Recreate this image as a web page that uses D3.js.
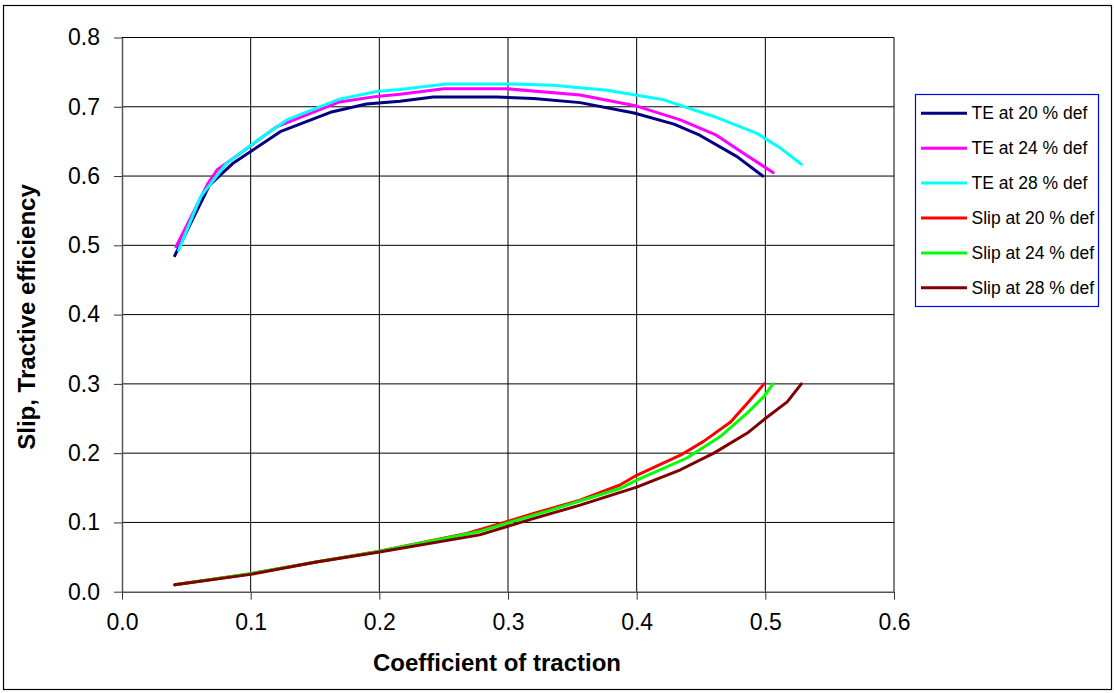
<!DOCTYPE html>
<html>
<head>
<meta charset="utf-8">
<script src="https://cdn.jsdelivr.net/npm/d3@7"></script>
<style>
  html, body { margin: 0; padding: 0; background: #fff; }
  svg { display: block; font-family: Arial, "Liberation Sans", sans-serif; }
</style>
</head>
<body>
<svg id="chart" width="1114" height="693"></svg>
<script>
// Tractive efficiency (TE) and slip against coefficient of traction, three tyre deflections
const seriesNames = ["TE at 20 % def", "TE at 24 % def", "TE at 28 % def",
                     "Slip at 20 % def", "Slip at 24 % def", "Slip at 28 % def"];
const seriesColors = ["#000080", "#ff00ff", "#00ffff", "#ff0000", "#00ff00", "#800000"];

const te20x = [0.041, 0.068, 0.086, 0.123, 0.162, 0.190, 0.216, 0.242, 0.291, 0.320, 0.356, 0.398, 0.429, 0.449, 0.478, 0.498];
const te20y = [0.485, 0.587, 0.618, 0.664, 0.692, 0.704, 0.708, 0.714, 0.714, 0.712, 0.706, 0.691, 0.675, 0.659, 0.628, 0.600];

const te24x = [0.042, 0.067, 0.074, 0.092, 0.120, 0.169, 0.198, 0.216, 0.250, 0.299, 0.356, 0.400, 0.434, 0.462, 0.483, 0.506];
const te24y = [0.498, 0.590, 0.609, 0.633, 0.671, 0.707, 0.715, 0.718, 0.726, 0.726, 0.717, 0.701, 0.681, 0.659, 0.633, 0.605];

const te28x = [0.044, 0.061, 0.081, 0.102, 0.128, 0.169, 0.198, 0.216, 0.252, 0.304, 0.335, 0.377, 0.421, 0.460, 0.493, 0.512, 0.528];
const te28y = [0.493, 0.570, 0.618, 0.647, 0.681, 0.711, 0.722, 0.725, 0.733, 0.733, 0.731, 0.724, 0.710, 0.686, 0.662, 0.640, 0.617];

const slip20x = [0.041, 0.100, 0.151, 0.199, 0.268, 0.299, 0.320, 0.356, 0.387, 0.400, 0.434, 0.452, 0.473, 0.486, 0.499];
const slip20y = [0.010, 0.026, 0.043, 0.058, 0.084, 0.101, 0.113, 0.132, 0.154, 0.168, 0.197, 0.217, 0.245, 0.272, 0.300];

const slip24x = [0.041, 0.100, 0.151, 0.199, 0.278, 0.330, 0.387, 0.400, 0.439, 0.465, 0.486, 0.499, 0.506];
const slip24y = [0.010, 0.026, 0.043, 0.058, 0.087, 0.116, 0.149, 0.161, 0.193, 0.224, 0.258, 0.282, 0.300];

const slip28x = [0.041, 0.100, 0.151, 0.199, 0.278, 0.317, 0.356, 0.400, 0.434, 0.460, 0.486, 0.500, 0.517, 0.528];
const slip28y = [0.010, 0.025, 0.043, 0.057, 0.082, 0.104, 0.125, 0.151, 0.176, 0.200, 0.229, 0.250, 0.274, 0.300];

const xTicks = [0.0, 0.1, 0.2, 0.3, 0.4, 0.5, 0.6];
const yTicks = [0.0, 0.1, 0.2, 0.3, 0.4, 0.5, 0.6, 0.7, 0.8];

const xValues = [te20x, te24x, te28x, slip20x, slip24x, slip28x];
const yValues = [te20y, te24y, te28y, slip20y, slip24y, slip28y];

const svg = d3.select("#chart");
const W = 1114, H = 693;

// outer chart frame
svg.append("rect")
  .attr("x", 3.5).attr("y", 5.5)
  .attr("width", W - 6).attr("height", H - 9)
  .attr("fill", "none").attr("stroke", "#000").attr("stroke-width", 1.2);

const x = d3.scaleLinear().domain([0, 0.6]).range([122, 894]);
const y = d3.scaleLinear().domain([0, 0.8]).range([591.7, 37.5]);

// grid
const grid = svg.append("g");
grid.selectAll("line.h").data(yTicks.filter(d => d > 0)).join("line")
  .attr("x1", x(0)).attr("x2", x(0.6))
  .attr("y1", d => y(d)).attr("y2", d => y(d))
  .attr("stroke", "#000").attr("stroke-width", 1);
grid.selectAll("line.v").data(xTicks.filter(d => d > 0)).join("line")
  .attr("x1", d => x(d)).attr("x2", d => x(d))
  .attr("y1", y(0)).attr("y2", y(0.8))
  .attr("stroke", "#000").attr("stroke-width", 1);

// axes
const xAxis = d3.axisBottom(x).tickValues(xTicks).tickFormat(d3.format(".1f"))
  .tickSizeInner(8).tickSizeOuter(0).tickPadding(14);
const yAxis = d3.axisLeft(y).tickValues(yTicks).tickFormat(d3.format(".1f"))
  .tickSizeInner(8).tickSizeOuter(0).tickPadding(14);

const gx = svg.append("g").attr("transform", `translate(0,${y(0)})`).call(xAxis);
const gy = svg.append("g").attr("transform", `translate(${x(0)},0)`).call(yAxis);
[gx, gy].forEach(g => {
  g.select(".domain").attr("stroke", "#555").attr("stroke-width", 1.5);
  g.selectAll(".tick line").attr("stroke", "#333");
  g.selectAll(".tick text").attr("fill", "#000")
    .style("font-size", "23px").style("font-family", "Arial, 'Liberation Sans', sans-serif");
});
gx.selectAll(".tick text").attr("dy", "0.71em");

// axis titles
svg.append("text")
  .attr("x", 497).attr("y", 671)
  .attr("text-anchor", "middle")
  .style("font-size", "24px").style("font-weight", "bold")
  .text("Coefficient of traction");

svg.append("text")
  .attr("transform", "translate(35,317) rotate(-90)")
  .attr("text-anchor", "middle")
  .style("font-size", "24px").style("font-weight", "bold")
  .text("Slip, Tractive efficiency");

// series lines
const line = d3.line().x(d => x(d[0])).y(d => y(d[1]));
const series = seriesNames.map((name, i) => ({
  name, color: seriesColors[i],
  points: xValues[i].map((v, j) => [v, yValues[i][j]])
}));

svg.append("g").selectAll("path").data(series).join("path")
  .attr("d", d => line(d.points))
  .attr("fill", "none")
  .attr("stroke", d => d.color)
  .attr("stroke-width", 3)
  .attr("stroke-linejoin", "round")
  .attr("stroke-linecap", "round");

// legend
const lg = svg.append("g");
lg.append("rect")
  .attr("x", 915.5).attr("y", 94.5)
  .attr("width", 183).attr("height", 212)
  .attr("fill", "#fff").attr("stroke", "#0000ff").attr("stroke-width", 1.2);

const items = lg.selectAll("g.item").data(series).join("g")
  .attr("transform", (d, i) => `translate(0,${113.3 + i * 34.9})`);
items.append("line")
  .attr("x1", 921).attr("x2", 967)
  .attr("stroke", d => d.color).attr("stroke-width", 3);
items.append("text")
  .attr("x", 971.5).attr("dy", "0.35em")
  .style("font-size", "17.5px")
  .text(d => d.name);
</script>
</body>
</html>
